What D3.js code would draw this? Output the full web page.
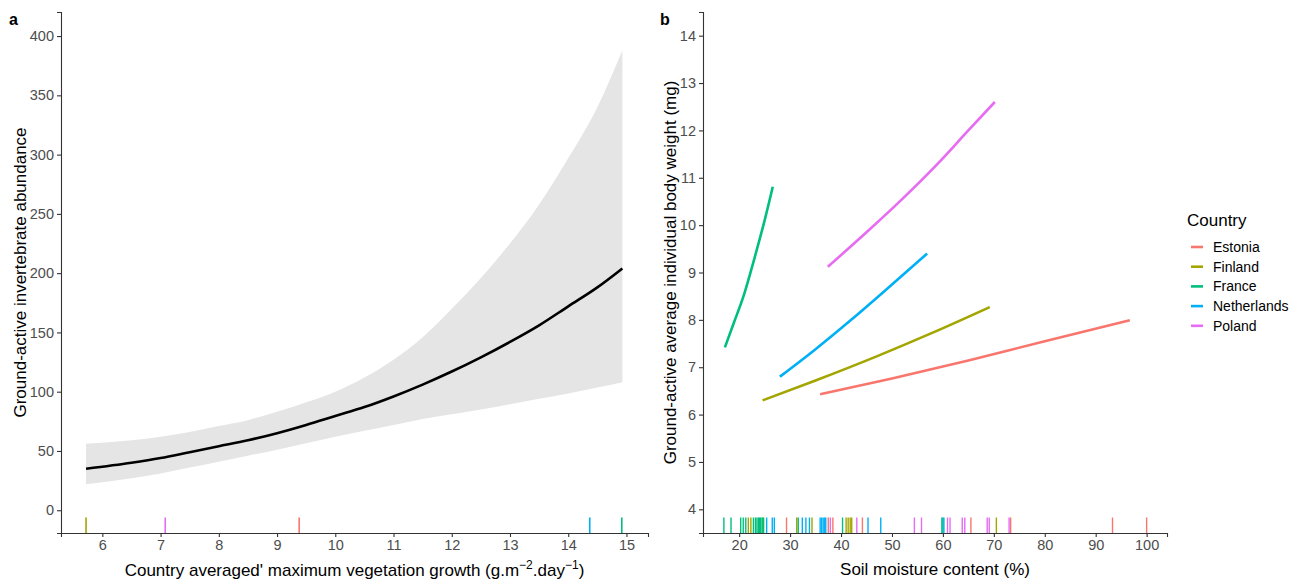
<!DOCTYPE html>
<html>
<head>
<meta charset="utf-8">
<script src="https://cdn.jsdelivr.net/npm/d3@7"></script>
<style>
  body { margin: 0; background: #fff; }
  svg { font-family: "Liberation Sans", Arial, sans-serif; }
  .tick text { fill: #4d4d4d; font-size: 14.5px; }
  .axis path, .axis line { stroke: #333; stroke-width: 1.1; }
</style>
</head>
<body>
<svg id="viz"></svg>
<script>
let width = 1293;
let height = 581;

// panel a: fitted abundance vs vegetation growth
let vegX     = [5.72, 6.5, 7, 7.5, 8, 8.5, 9, 9.5, 10, 10.5, 11, 11.5, 12, 12.5, 13, 13.5, 14, 14.5, 14.93];
let abundFit = [35, 40, 44, 49, 54, 59, 65, 72, 79.5, 87, 96, 106, 117, 129, 142, 156, 172, 188, 204];
let abundLo  = [22, 27, 31, 36, 41, 46, 51, 56.5, 62, 67, 72, 77, 81, 85, 89.5, 94, 98.5, 103.5, 108];
let abundHi  = [56, 59, 62, 66, 71, 76, 83, 91, 100, 112, 127, 146, 170, 196, 225, 258, 297, 340, 388];
let abundTicks = [0, 50, 100, 150, 200, 250, 300, 350, 400];
let vegTicks = [6, 7, 8, 9, 10, 11, 12, 13, 14, 15];

// countries, in legend order
let countries = ["Estonia", "Finland", "France", "Netherlands", "Poland"];
let countryColors = ["#F8766D", "#A3A500", "#00BF7D", "#00B0F6", "#E76BF3"];
let vegRug = [9.38, 5.72, 14.92, 14.37, 7.08];

// panel b: fitted body weight vs soil moisture, [moisture, weight]
let estoniaFit = [[35.9, 6.43], [50, 6.76], [65, 7.14], [80, 7.55], [96.7, 7.99]];
let finlandFit = [[24.6, 6.30], [35, 6.72], [47, 7.23], [58, 7.73], [69.2, 8.27]];
let franceFit = [[17.2, 7.42], [19, 7.95], [21, 8.55], [23, 9.3], [25, 10.1], [26.6, 10.81]];
let netherlandsFit = [[28, 6.8], [35, 7.38], [42, 8.0], [49, 8.65], [56.9, 9.4]];
let polandFit = [[37.4, 9.12], [45, 9.85], [52, 10.55], [59, 11.3], [65, 12.0], [70.2, 12.6]];

let estoniaRug = [29.3, 37.5, 38.4, 44.2, 65.5, 73.3, 93.3, 100];
let finlandRug = [21.8, 22.3, 24.6, 31.3, 34.3, 41.0, 41.4, 41.8, 42.1, 70.5];
let franceRug = [17.0, 18.4, 20.3, 20.8, 21.3, 22.8, 23.2, 23.5, 23.8, 24.0, 24.2, 24.5, 24.8, 31.6, 40.3, 59.8, 60.0];
let netherlandsRug = [25.4, 26.5, 26.9, 32.4, 33.1, 33.8, 35.9, 36.2, 36.5, 36.8, 37.0, 45.3, 47.8, 60.2];
let polandRug = [37.9, 43.1, 54.4, 55.8, 60.9, 61.4, 63.8, 64.3, 68.7, 69.1, 73.0];

let weightTicks = [4, 5, 6, 7, 8, 9, 10, 11, 12, 13, 14];
let moistTicks = [20, 30, 40, 50, 60, 70, 80, 90, 100];

let fits = [estoniaFit, finlandFit, franceFit, netherlandsFit, polandFit];
let rugs = [estoniaRug, finlandRug, franceRug, netherlandsRug, polandRug];

let svg = d3.select("#viz")
    .attr("width", width)
    .attr("height", height);

let color = d3.scaleOrdinal().domain(countries).range(countryColors);

// ---------- panel a ----------
let xA = d3.scaleLinear().domain([5.29, 15.37]).range([61, 648]);
let yA = d3.scaleLinear().domain([-19.2, 420.3]).range([533, 12]);

let rows = vegX.map((x, i) => ({x: x, fit: abundFit[i], lo: abundLo[i], hi: abundHi[i]}));

svg.append("path")
    .datum(rows)
    .attr("fill", "#e5e5e5")
    .attr("d", d3.area()
        .x(d => xA(d.x))
        .y0(d => yA(d.lo))
        .y1(d => yA(d.hi))
        .curve(d3.curveMonotoneX));

svg.append("path")
    .datum(rows)
    .attr("fill", "none")
    .attr("stroke", "#000")
    .attr("stroke-width", 2.6)
    .attr("d", d3.line()
        .x(d => xA(d.x))
        .y(d => yA(d.fit))
        .curve(d3.curveMonotoneX));

let rugLen = 15.5;
svg.append("g").selectAll("line")
    .data(vegRug)
    .enter().append("line")
    .attr("x1", d => xA(d)).attr("x2", d => xA(d))
    .attr("y1", 533).attr("y2", 533 - rugLen)
    .attr("stroke", (d, i) => color(countries[i]))
    .attr("stroke-width", 1.6);

svg.append("g")
    .attr("class", "axis")
    .attr("transform", "translate(0,533)")
    .call(d3.axisBottom(xA).tickValues(vegTicks).tickSizeOuter(0).tickSize(4).tickPadding(3));

svg.append("g")
    .attr("class", "axis")
    .attr("transform", "translate(61,0)")
    .call(d3.axisLeft(yA).tickValues(abundTicks).tickSizeOuter(0).tickSize(4).tickPadding(3));

svg.append("text")
    .attr("transform", "translate(20,272.5) rotate(-90)")
    .attr("text-anchor", "middle")
    .attr("dy", "0.35em")
    .style("font-size", "17px")
    .text("Ground-active invertebrate abundance");

let xTitleA = svg.append("text")
    .attr("x", 354.5)
    .attr("y", 576)
    .attr("text-anchor", "middle")
    .style("font-size", "17px");
xTitleA.append("tspan").text("Country averaged' maximum vegetation growth (g.m");
xTitleA.append("tspan").attr("dy", -7).style("font-size", "12px").text("\u22122");
xTitleA.append("tspan").attr("dy", 7).text(".day");
xTitleA.append("tspan").attr("dy", -7).style("font-size", "12px").text("\u22121");
xTitleA.append("tspan").attr("dy", 7).text(")");

svg.append("text")
    .attr("x", 9).attr("y", 25)
    .style("font-size", "16px")
    .style("font-weight", "bold")
    .text("a");

// ---------- panel b ----------
let xB = d3.scaleLinear().domain([12.9, 104]).range([703, 1167]);
let yB = d3.scaleLinear().domain([3.5, 14.5]).range([533, 12]);

let lineB = d3.line()
    .x(d => xB(d[0]))
    .y(d => yB(d[1]))
    .curve(d3.curveMonotoneX);

svg.append("g").selectAll("path")
    .data(fits)
    .enter().append("path")
    .attr("fill", "none")
    .attr("stroke", (d, i) => color(countries[i]))
    .attr("stroke-width", 2.6)
    .attr("d", lineB);

rugs.forEach(function(r, i) {
    svg.append("g").selectAll("line")
        .data(r)
        .enter().append("line")
        .attr("x1", d => xB(d)).attr("x2", d => xB(d))
        .attr("y1", 533).attr("y2", 533 - rugLen)
        .attr("stroke", color(countries[i]))
        .attr("stroke-width", 1.4);
});

svg.append("g")
    .attr("class", "axis")
    .attr("transform", "translate(0,533)")
    .call(d3.axisBottom(xB).tickValues(moistTicks).tickSizeOuter(0).tickSize(4).tickPadding(3));

svg.append("g")
    .attr("class", "axis")
    .attr("transform", "translate(703,0)")
    .call(d3.axisLeft(yB).tickValues(weightTicks).tickSizeOuter(0).tickSize(4).tickPadding(3));

svg.append("text")
    .attr("transform", "translate(670,272.5) rotate(-90)")
    .attr("text-anchor", "middle")
    .attr("dy", "0.35em")
    .style("font-size", "17px")
    .text("Ground-active average individual body weight (mg)");

svg.append("text")
    .attr("x", 935).attr("y", 575)
    .attr("text-anchor", "middle")
    .style("font-size", "17px")
    .text("Soil moisture content (%)");

svg.append("text")
    .attr("x", 660).attr("y", 25)
    .style("font-size", "16px")
    .style("font-weight", "bold")
    .text("b");

// ---------- legend ----------
let legend = svg.append("g").attr("transform", "translate(1187,0)");
legend.append("text")
    .attr("x", 0).attr("y", 226)
    .style("font-size", "17px")
    .text("Country");

let items = legend.selectAll("g.item")
    .data(countries)
    .enter().append("g")
    .attr("class", "item")
    .attr("transform", (d, i) => "translate(0," + (247 + i * 19.7) + ")");
items.append("line")
    .attr("x1", 4).attr("x2", 16)
    .attr("stroke", d => color(d))
    .attr("stroke-width", 2.6);
items.append("text")
    .attr("x", 26).attr("dy", "0.35em")
    .style("font-size", "14px")
    .text(d => d);
</script>
</body>
</html>
